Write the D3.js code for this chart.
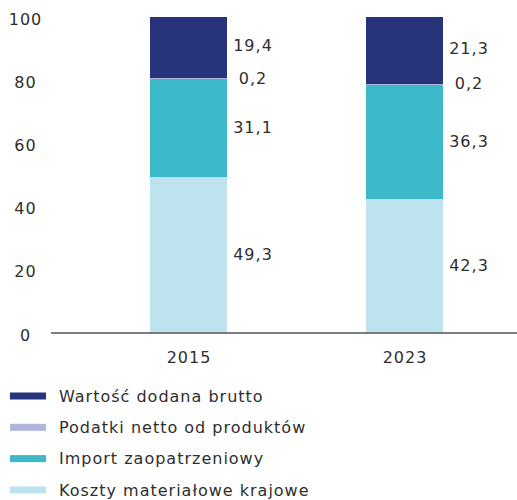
<html>
<head>
  <meta charset="utf-8">
  <script src="https://d3js.org/d3.v7.min.js"></script>
</head>

<style>
  body { margin: 0; background: #fff; }
  text { font-family: 'DejaVu Sans', sans-serif; fill: #2e2e2e; letter-spacing: 1px; }
  .layer rect { shape-rendering: crispEdges; }
</style>

<body>
  <div class="chart"></div>

  <script>
    // data
    var years = ["2015", "2023"];
    var seriesNames = ["Koszty materiałowe krajowe", "Import zaopatrzeniowy", "Podatki netto od produktów", "Wartość dodana brutto"];
    var koszty = [49.3, 42.3];
    var importZ = [31.1, 36.3];
    var podatki = [0.2, 0.2];
    var wartosc = [19.4, 21.3];
    var yTicks = [0, 20, 40, 60, 80, 100];
    var colors = ["#bee3ee", "#3cbaca", "#b0b5dd", "#27347c"];

    var width = 517, height = 500;

    var svg = d3.select('.chart')
      .append('svg')
        .attr('width', width)
        .attr('height', height);

    var table = years.map(function(y, i) {
      return { year: y, k0: koszty[i], k1: importZ[i], k2: podatki[i], k3: wartosc[i] };
    });
    var keys = ["k0", "k1", "k2", "k3"];

    var x = d3.scaleBand()
      .domain(years)
      .range([42, 551])
      .paddingInner(0.6435)
      .paddingOuter(0.5);

    var y = d3.scaleLinear()
      .domain([0, 100])
      .range([333, 17]);

    var stack = d3.stack().keys(keys);
    var series = stack(table);

    // bars
    var layer = svg.selectAll(".layer")
      .data(series)
      .enter().append("g")
        .attr("class", "layer")
        .style("fill", function(d, i) { return colors[i]; });

    layer.selectAll("rect")
      .data(function(d) { return d; })
      .enter().append("rect")
        .attr("x", function(d) { return x(d.data.year); })
        .attr("y", function(d) { return y(d[1]); })
        .attr("width", x.bandwidth())
        .attr("height", function(d) { return y(d[0]) - y(d[1]); });

    // value labels
    layer.selectAll("text")
      .data(function(d) { return d.map(function(p) { return {p: p, key: d.key}; }); })
      .enter().append("text")
        .attr("x", function(d) { return x(d.p.data.year) + x.bandwidth() + 26; })
        .attr("y", function(d) {
          var off = d.key == "k3" ? -2 : (d.key == "k2" ? -0.5 : -1);
          return (y(d.p[0]) + y(d.p[1])) / 2 + off;
        })
        .attr("dy", "0.35em")
        .style("text-anchor", "middle")
        .style("font-size", "16px")
        .style("fill", "#2e2e2e")
        .text(function(d) { return String(d.p.data[d.key]).replace(".", ","); });

    // y axis labels
    svg.selectAll(".ytick")
      .data(yTicks)
      .enter().append("text")
        .attr("class", "ytick")
        .attr("x", 25.5)
        .attr("y", function(d) { return y(d) + 2; })
        .attr("dy", "0.35em")
        .style("text-anchor", "middle")
        .style("font-size", "16px")
        .text(function(d) { return d; });

    // x axis line
    svg.append("line")
      .attr("x1", 51)
      .attr("x2", 517)
      .attr("y1", y(0))
      .attr("y2", y(0))
      .style("stroke", "#555")
      .style("stroke-width", 1.6);

    // x labels
    svg.selectAll(".xtick")
      .data(years)
      .enter().append("text")
        .attr("class", "xtick")
        .attr("x", function(d) { return x(d) + x.bandwidth() / 2 + 0.5; })
        .attr("y", 357)
        .attr("dy", "0.35em")
        .style("text-anchor", "middle")
        .style("font-size", "16px")
        .text(function(d) { return d; });

    // legend
    var legendOrder = [3, 2, 1, 0];
    var legend = svg.selectAll(".legend")
      .data(legendOrder)
      .enter().append("g")
        .attr("class", "legend")
        .attr("transform", function(d, i) { return "translate(10," + (396 + i * 31.3) + ")"; });

    legend.append("rect")
      .attr("x", 0)
      .attr("y", -3.5)
      .attr("width", 36)
      .attr("height", 7)
      .style("fill", function(d) { return colors[d]; });

    legend.append("text")
      .attr("x", 49)
      .attr("y", 0)
      .attr("dy", "0.35em")
      .style("font-size", "16px")
      .text(function(d) { return seriesNames[d]; });
  </script>
</body>
</html>
